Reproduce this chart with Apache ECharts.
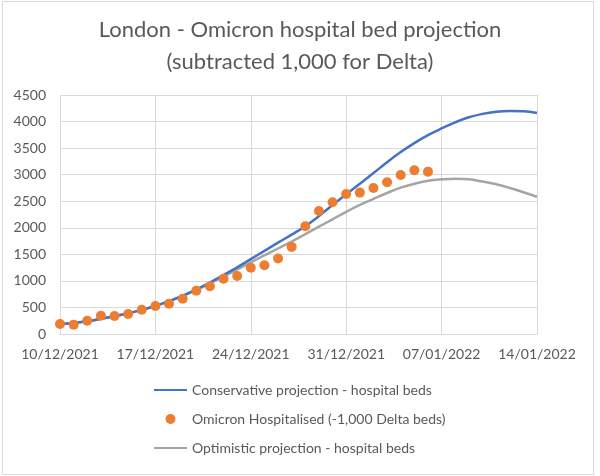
<!DOCTYPE html>
<html>
<head>
<meta charset="utf-8">
<script src="https://cdn.jsdelivr.net/npm/echarts@6/dist/echarts.min.js"></script>
<style>
html,body{margin:0;padding:0;background:#fff;}
#chart{width:600px;height:476px;}
</style>
</head>
<body>
<div id="chart"></div>
<script>
// Day index 0 = 10/12/2021
const xTickLabels = ['10/12/2021','17/12/2021','24/12/2021','31/12/2021','07/01/2022','14/01/2022'];
const yTicks = [0,500,1000,1500,2000,2500,3000,3500,4000,4500];
const seriesNames = ['Conservative projection - hospital beds','Omicron Hospitalised (-1,000 Delta beds)','Optimistic projection - hospital beds'];
const conservative = [185,205,240,285,335,390,455,530,620,720,840,970,1110,1255,1410,1565,1720,1870,2030,2220,2430,2630,2830,3030,3235,3425,3595,3745,3870,3985,4080,4145,4185,4200,4195,4160];
const optimistic   = [185,205,240,285,335,390,455,528,615,712,828,950,1080,1215,1350,1480,1610,1740,1880,2020,2160,2300,2430,2545,2655,2755,2830,2885,2912,2925,2915,2870,2820,2750,2670,2585];
const hospitalised = [188,176,251,345,339,377,458,527,568,665,813,900,1040,1092,1249,1293,1420,1640,2030,2316,2480,2637,2662,2750,2856,2994,3082,3057];

const toPairs = arr => arr.map((v,i)=>[i,v]);
const FONT = 'Lato';
const hideSym = {color:'rgba(0,0,0,0)',borderColor:'rgba(0,0,0,0)',borderWidth:0};
const chart = echarts.init(document.getElementById('chart'));
chart.setOption({
  animation:false,
  backgroundColor:'#ffffff',
  textStyle:{fontFamily:FONT},
  graphic:[{type:'rect',shape:{x:2.5,y:1.5,width:591,height:473},style:{fill:'none',stroke:'#d9d9d9',lineWidth:1},silent:true}],
  title:{
    text:'London - Omicron hospital bed projection\n(subtracted 1,000 for Delta)',
    left:'center', top:9,
    textStyle:{fontFamily:FONT,fontSize:22,fontWeight:'normal',color:'#595959',lineHeight:32}
  },
  legend:{
    orient:'vertical', left:153, top:383, padding:0,
    itemWidth:33, itemHeight:10, itemGap:15,
    textStyle:{fontFamily:FONT,fontSize:14,color:'#595959'},
    data:[
      {name:seriesNames[0],itemStyle:hideSym},
      {name:seriesNames[1]},
      {name:seriesNames[2],itemStyle:hideSym}
    ]
  },
  grid:{left:60,right:63,top:95,bottom:142},
  xAxis:{
    type:'value', min:0, max:35, interval:7,
    axisLine:{lineStyle:{color:'#d9d9d9'}},
    axisTick:{show:false},
    splitLine:{show:true,lineStyle:{color:'#d9d9d9'}},
    axisLabel:{fontFamily:FONT,fontSize:14,color:'#595959',margin:13,
      formatter:v=>xTickLabels[Math.round(v/7)]||''}
  },
  yAxis:{
    type:'value', min:yTicks[0], max:yTicks[yTicks.length-1], interval:500,
    axisLine:{show:false}, axisTick:{show:false},
    splitLine:{lineStyle:{color:'#d9d9d9'}},
    axisLabel:{fontFamily:FONT,fontSize:14,color:'#595959',margin:14,formatter:v=>String(v)}
  },
  series:[
    {name:seriesNames[0],type:'line',data:toPairs(conservative),smooth:0.4,symbol:'none',
      lineStyle:{color:'#4472C4',width:2.5},itemStyle:{color:'#4472C4'},z:3},
    {name:seriesNames[1],type:'scatter',data:toPairs(hospitalised),symbol:'circle',symbolSize:10,
      itemStyle:{color:'#ED7D31',opacity:1},z:4},
    {name:seriesNames[2],type:'line',data:toPairs(optimistic),smooth:0.4,symbol:'none',
      lineStyle:{color:'#A5A5A5',width:2.5},itemStyle:{color:'#A5A5A5'},z:2}
  ]
});
</script>
</body>
</html>
